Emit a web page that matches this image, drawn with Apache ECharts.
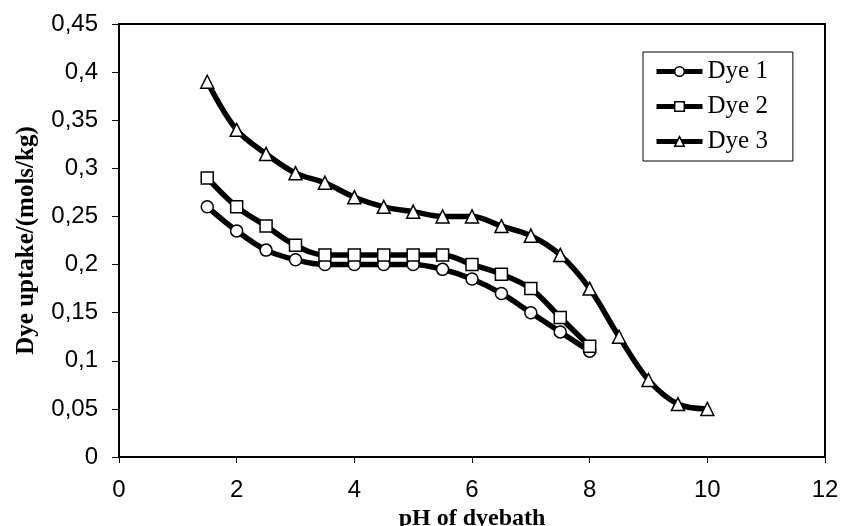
<!DOCTYPE html>
<html>
<head>
<meta charset="utf-8">
<script src="https://cdn.jsdelivr.net/npm/echarts@6/dist/echarts.min.js"></script>
<style>
html,body{margin:0;padding:0;background:#fff;}
#chart{width:843px;height:526px;}
</style>
</head>
<body>
<div id="chart"></div>
<script>
var seriesNames = ['Dye 1', 'Dye 2', 'Dye 3'];
var phDye12 = [1.5, 2, 2.5, 3, 3.5, 4, 4.5, 5, 5.5, 6, 6.5, 7, 7.5, 8];
var phDye3 = [1.5, 2, 2.5, 3, 3.5, 4, 4.5, 5, 5.5, 6, 6.5, 7, 7.5, 8, 8.5, 9, 9.5, 10];
var dye1 = [0.26, 0.235, 0.215, 0.205, 0.2, 0.2, 0.2, 0.2, 0.195, 0.185, 0.17, 0.15, 0.13, 0.11];
var dye2 = [0.29, 0.26, 0.24, 0.22, 0.21, 0.21, 0.21, 0.21, 0.21, 0.2, 0.19, 0.175, 0.145, 0.115];
var dye3 = [0.39, 0.34, 0.315, 0.295, 0.285, 0.27, 0.26, 0.255, 0.25, 0.25, 0.24, 0.23, 0.21, 0.175, 0.125, 0.08, 0.055, 0.05];
var xTitle = 'pH of dyebath';
var yTitle = 'Dye uptake/(mols/kg)';

function pairs(xs, ys) { return xs.map(function (x, i) { return [x, ys[i]]; }); }

var symbols = ['circle', 'rect', 'triangle'];
var sizes = [12, 12, 13];
var datasets = [pairs(phDye12, dye1), pairs(phDye12, dye2), pairs(phDye3, dye3)];

var chart = echarts.init(document.getElementById('chart'), null, {renderer: 'canvas'});
chart.setOption({
  animation: false,
  backgroundColor: '#fff',
  grid: {left: 119, right: 18, top: 24, bottom: 69, outerBoundsMode: 'none', containLabel: false,
    show: true, borderColor: '#000', borderWidth: 2, backgroundColor: 'transparent'},
  legend: {
    orient: 'vertical',
    left: 643, top: 52,
    padding: [7, 25, 7, 11],
    borderColor: '#000', borderWidth: 1,
    itemWidth: 46, itemHeight: 12, itemGap: 10,
    lineStyle: {width: 5, color: '#000'},
    itemStyle: {color: '#fff', borderColor: '#000', borderWidth: 1.5},
    textStyle: {fontFamily: 'Liberation Serif', fontSize: 25, color: '#000', lineHeight: 25},
    data: seriesNames
  },
  xAxis: {
    type: 'value', min: 0, max: 12, interval: 2,
    name: xTitle, nameLocation: 'middle', nameGap: 49,
    nameTextStyle: {fontFamily: 'Liberation Serif', fontWeight: 'bold', fontSize: 24, color: '#000'},
    axisLine: {lineStyle: {color: '#000', width: 2}},
    axisTick: {show: true, inside: false, length: 6, lineStyle: {color: '#000', width: 1}},
    axisLabel: {fontFamily: 'Liberation Sans', fontSize: 24, color: '#000', margin: 21},
    splitLine: {show: false}
  },
  yAxis: {
    type: 'value', min: 0, max: 0.45, interval: 0.05,
    name: yTitle, nameLocation: 'middle', nameGap: 80, nameRotate: 90,
    nameTextStyle: {fontFamily: 'Liberation Serif', fontWeight: 'bold', fontSize: 25, color: '#000'},
    axisLine: {lineStyle: {color: '#000', width: 2}},
    axisTick: {show: true, inside: false, length: 7, lineStyle: {color: '#000', width: 1}},
    axisLabel: {fontFamily: 'Liberation Sans', fontSize: 24, color: '#000', margin: 21,
      formatter: function (v) { return String(+v.toFixed(2)).replace('.', ','); }},
    splitLine: {show: false}
  },
  series: seriesNames.map(function (n, i) {
    return {
      name: n, type: 'line', data: datasets[i], smooth: 0.35,
      symbol: symbols[i], symbolSize: sizes[i], showAllSymbol: true,
      itemStyle: {color: '#fff', borderColor: '#000', borderWidth: 1.5},
      lineStyle: {color: '#000', width: 5.5},
      z: 2 + i
    };
  })
});
</script>
</body>
</html>
